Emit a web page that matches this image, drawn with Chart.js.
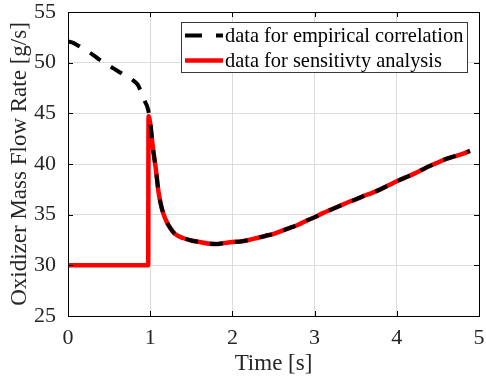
<!DOCTYPE html>
<html>
<head>
<meta charset="utf-8">
<script src="https://cdn.jsdelivr.net/npm/chart.js@4.4.1/dist/chart.umd.min.js"></script>
<style>
html,body{margin:0;padding:0;background:#fff;}
canvas{display:block;}
</style>
</head>
<body>
<canvas id="c" width="486" height="382"></canvas>
<script>
// ---- data ----
const empTime = [0, 0.05, 0.1, 0.2, 0.3, 0.4, 0.5, 0.6, 0.7, 0.8, 0.85, 0.88, 0.91, 0.94, 0.97, 1.0,
  1.03, 1.07, 1.1, 1.13, 1.16, 1.2, 1.25, 1.3, 1.4, 1.5, 1.6, 1.7, 1.8, 1.9, 2.0, 2.1, 2.2, 2.3, 2.4, 2.5,
  2.6, 2.7, 2.8, 2.9, 3.0, 3.1, 3.2, 3.3, 3.4, 3.5, 3.6, 3.7, 3.8, 3.9, 4.0, 4.1, 4.2, 4.3, 4.4, 4.5,
  4.6, 4.7, 4.8, 4.89];
const empFlow = [52.1, 52.0, 51.8, 51.3, 50.8, 50.2, 49.7, 49.2, 48.7, 48.2, 47.8, 47.3, 46.7, 46.1, 45.5, 44.2,
  41.8, 39.4, 37.3, 36.0, 35.1, 34.3, 33.6, 33.1, 32.7, 32.45, 32.3, 32.15, 32.1, 32.2, 32.3, 32.35, 32.5, 32.7, 32.9, 33.1,
  33.4, 33.7, 34.0, 34.4, 34.75, 35.15, 35.5, 35.85, 36.2, 36.5, 36.85, 37.15, 37.5, 37.9, 38.3, 38.65, 39.0, 39.4, 39.8, 40.15,
  40.5, 40.75, 41.0, 41.3];

const sensTime = [0, 0.5, 0.975, 0.98, 1.0,
  1.03, 1.07, 1.1, 1.13, 1.16, 1.2, 1.25, 1.3, 1.4, 1.5, 1.6, 1.7, 1.8, 1.9, 2.0, 2.1, 2.2, 2.3, 2.4, 2.5,
  2.6, 2.7, 2.8, 2.9, 3.0, 3.1, 3.2, 3.3, 3.4, 3.5, 3.6, 3.7, 3.8, 3.9, 4.0, 4.1, 4.2, 4.3, 4.4, 4.5,
  4.6, 4.7, 4.8, 4.89];
const sensFlow = [30, 30, 30, 44.7, 44.0,
  41.8, 39.4, 37.3, 36.0, 35.1, 34.3, 33.6, 33.1, 32.7, 32.45, 32.3, 32.15, 32.1, 32.2, 32.3, 32.35, 32.5, 32.7, 32.9, 33.1,
  33.4, 33.7, 34.0, 34.4, 34.75, 35.15, 35.5, 35.85, 36.2, 36.5, 36.85, 37.15, 37.5, 37.9, 38.3, 38.65, 39.0, 39.4, 39.8, 40.15,
  40.5, 40.75, 41.0, 41.3];

const seriesLabels = ['data for empirical correlation', 'data for sensitivty analysis'];
const xTitle = 'Time [s]';
const yTitle = 'Oxidizer Mass Flow Rate [g/s]';
const xMin = 0, xMax = 5, xStep = 1;
const yMin = 25, yMax = 55, yStep = 5;

const toPts = (xs, ys) => xs.map((x, i) => ({x: x, y: ys[i]}));
const FONT = "'Liberation Serif', 'Times New Roman', serif";

const framePlugin = {
  id: 'frame',
  afterDatasetsDraw(chart) {
    const {ctx, chartArea: a, scales: {x, y}} = chart;
    ctx.save();
    ctx.strokeStyle = '#000';
    ctx.lineWidth = 1;
    ctx.beginPath();
    const tl = 5;
    for (let v = xMin; v <= xMax; v += xStep) {
      const px = Math.round(x.getPixelForValue(v)) + 0.5;
      ctx.moveTo(px, a.bottom); ctx.lineTo(px, a.bottom - tl);
      ctx.moveTo(px, a.top); ctx.lineTo(px, a.top + tl);
    }
    for (let v = yMin; v <= yMax; v += yStep) {
      const py = Math.round(y.getPixelForValue(v)) + 0.5;
      ctx.moveTo(a.left, py); ctx.lineTo(a.left + tl, py);
      ctx.moveTo(a.right, py); ctx.lineTo(a.right - tl, py);
    }
    ctx.stroke();
    ctx.strokeRect(Math.round(a.left) + 0.5, Math.round(a.top) + 0.5,
                   Math.round(a.right - a.left), Math.round(a.bottom - a.top));

    // legend box inside plot (north-east)
    const bx = 181.5, by = 22.5, bw = 286, bh = 50;
    ctx.fillStyle = '#fff';
    ctx.fillRect(bx, by, bw, bh);
    ctx.strokeStyle = '#3a3a3a';
    ctx.strokeRect(bx, by, bw, bh);
    const rows = [35.5, 60.5];
    chart.data.datasets.forEach((ds, i) => {
      const cy = rows[i];
      ctx.save();
      ctx.strokeStyle = ds.borderColor;
      ctx.lineWidth = ds.borderWidth;
      ctx.setLineDash(ds.borderDash ? [17, 14] : []);
      ctx.beginPath();
      ctx.moveTo(185, cy); ctx.lineTo(223, cy);
      ctx.stroke();
      ctx.restore();
      ctx.fillStyle = '#000';
      ctx.font = '20.4px ' + FONT;
      ctx.textBaseline = 'middle';
      ctx.textAlign = 'left';
      ctx.fillText(ds.label, 225, cy + 1);
    });
    ctx.restore();
  }
};

new Chart(document.getElementById('c'), {
  type: 'line',
  data: {
    datasets: [
      {
        label: seriesLabels[0],
        data: toPts(empTime, empFlow),
        borderColor: '#000000',
        borderWidth: 4,
        borderDash: [13, 12],
        pointRadius: 0,
        fill: false,
        cubicInterpolationMode: 'monotone'
      },
      {
        label: seriesLabels[1],
        data: toPts(sensTime, sensFlow),
        borderColor: '#ff0000',
        borderWidth: 4.5,
        pointRadius: 0,
        fill: false,
        cubicInterpolationMode: 'monotone'
      }
    ]
  },
  options: {
    responsive: false,
    devicePixelRatio: 1,
    animation: false,
    layout: {padding: {top: 12, right: 7, left: 0, bottom: 0}},
    plugins: {legend: {display: false}, tooltip: {enabled: false}},
    scales: {
      x: {
        type: 'linear', min: xMin, max: xMax,
        ticks: {stepSize: xStep, color: '#262626', font: {family: FONT, size: 22}, padding: 9, maxRotation: 0},
        grid: {color: '#dcdcdc', lineWidth: 1, drawTicks: false},
        border: {display: true, color: '#000', width: 1},
        title: {display: true, text: xTitle, color: '#262626', font: {family: FONT, size: 23}, padding: {top: 4, bottom: 4}},
        afterFit(s) { s.height = 66; s.paddingLeft = 0; s.paddingRight = 0; }
      },
      y: {
        type: 'linear', min: yMin, max: yMax,
        ticks: {stepSize: yStep, color: '#262626', font: {family: FONT, size: 22}, padding: 12},
        grid: {color: '#dcdcdc', lineWidth: 1, drawTicks: false},
        border: {display: true, color: '#000', width: 1},
        title: {display: true, text: yTitle, color: '#262626', font: {family: FONT, size: 23}, padding: {top: 6, bottom: 6}},
        afterFit(s) { s.width = 68; s.paddingTop = 0; s.paddingBottom = 0; }
      }
    }
  },
  plugins: [framePlugin]
});
</script>
</body>
</html>
